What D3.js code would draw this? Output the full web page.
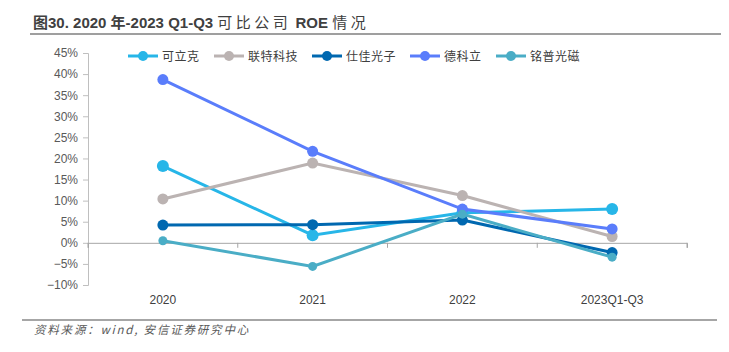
<!DOCTYPE html>
<html>
<head>
<meta charset="utf-8">
<script src="https://cdn.jsdelivr.net/npm/d3@7"></script>
<style>
  body { margin: 0; background: #fff; }
  svg { display: block; }
</style>
</head>
<body>
<div id="wrapper"></div>
<script>
// data (ROE, %)
const categories = ["2020", "2021", "2022", "2023Q1-Q3"]
const seriesNames = ["可立克", "联特科技", "仕佳光子", "德科立", "铭普光磁"]
const keLiKe = [18.2, 1.8, 7.1, 8.0]
const lianTe = [10.4, 18.9, 11.2, 1.5]
const shiJia = [4.2, 4.3, 5.4, -2.3]
const deKeLi = [38.7, 21.7, 8.0, 3.3]
const mingPu = [0.5, -5.6, 6.8, -3.4]
const yTicks = [45, 40, 35, 30, 25, 20, 15, 10, 5, 0, -5, -10]

const colors = ["#27b6e8", "#bbb3b2", "#0068b0", "#5a7dfb", "#4aadc6"]
const radii = [6, 5.5, 5.5, 5.5, 4.5]
const allSeries = [keLiKe, lianTe, shiJia, deKeLi, mingPu]

const dimensions = {
  width: 729,
  height: 352,
  margin: { top: 53, right: 42, bottom: 67, left: 88 },
}
dimensions.boundedWidth = dimensions.width - dimensions.margin.left - dimensions.margin.right
dimensions.boundedHeight = dimensions.height - dimensions.margin.top - dimensions.margin.bottom

const wrapper = d3.select("#wrapper")
  .append("svg")
  .attr("width", dimensions.width)
  .attr("height", dimensions.height)
  .style("font-family", "'Liberation Sans', Arial, sans-serif")

// title + rules (CJK parts are spaced out a little, like the original)
const title = wrapper.append("text")
  .attr("x", 33).attr("y", 28)
  .attr("font-size", 15).attr("font-weight", "bold").attr("fill", "#404040")
  .attr("font-family", "'Liberation Sans', 'Noto Sans CJK SC', sans-serif")
const titleParts = [
  ["图", 0], ["30. 2020 ", 0], ["年", 0], ["-2023 Q1-Q3 ", 0],
  ["可比公司", 3.5], [" ROE ", 0], ["情况", 3.5],
]
titleParts.forEach(function(p) {
  title.append("tspan").attr("letter-spacing", p[1])
    .attr("font-weight", p[1] > 0 ? "normal" : "bold")
    .text(p[0])
})
wrapper.append("line")
  .attr("x1", 30).attr("x2", 721).attr("y1", 34).attr("y2", 34)
  .attr("stroke", "#7f7f7f").attr("stroke-width", 1.5)
wrapper.append("line")
  .attr("x1", 22).attr("x2", 717).attr("y1", 320).attr("y2", 320)
  .attr("stroke", "#a6a6a6").attr("stroke-width", 2)
wrapper.append("text")
  .attr("x", 34).attr("y", 334)
  .attr("font-size", 11.5).attr("font-style", "italic").attr("fill", "#595959")
  .attr("letter-spacing", 1.8)
  .attr("font-family", "'Noto Sans CJK SC', sans-serif")
  .text("资料来源：wind, 安信证券研究中心")

const bounds = wrapper.append("g")
  .attr("transform", `translate(${dimensions.margin.left},${dimensions.margin.top})`)

const xScale = d3.scaleBand()
  .domain(categories)
  .range([0, dimensions.boundedWidth])

const yScale = d3.scaleLinear()
  .domain([-10, 45])
  .range([dimensions.boundedHeight, 0])

// y axis
const yAxis = d3.axisLeft(yScale)
  .tickValues(yTicks)
  .tickSize(5)
  .tickFormat(d => (d < 0 ? "−" + Math.abs(d) : d) + "%")
const yAxisG = bounds.append("g").call(yAxis)
yAxisG.select(".domain").attr("stroke", "#bfbfbf")
yAxisG.selectAll(".tick line").attr("stroke", "#bfbfbf")
yAxisG.selectAll(".tick text")
  .attr("x", -10)
  .attr("fill", "#595959").attr("font-size", 12)

// x axis at zero
const xAxis = d3.axisBottom(xScale).tickSize(5).tickFormat("")
const xAxisG = bounds.append("g")
  .attr("transform", `translate(0,${yScale(0)})`)
  .call(xAxis)
xAxisG.select(".domain").attr("stroke", "#a6a6a6")
xAxisG.selectAll(".tick").remove()
// boundary ticks between categories
const edges = d3.range(categories.length + 1).map(i => i * xScale.step())
xAxisG.selectAll(".edge")
  .data(edges)
  .join("line")
  .attr("x1", d => d).attr("x2", d => d)
  .attr("y1", 0).attr("y2", 5)
  .attr("stroke", "#a6a6a6")

// category labels at bottom
bounds.append("g").selectAll("text")
  .data(categories)
  .join("text")
  .attr("x", d => xScale(d) + xScale.bandwidth() / 2)
  .attr("y", dimensions.boundedHeight + 19)
  .attr("text-anchor", "middle")
  .attr("font-size", 12).attr("fill", "#404040")
  .attr("font-family", "'Liberation Sans Narrow', 'Liberation Sans', sans-serif")
  .text(d => d)

const xPos = i => xScale(categories[i]) + xScale.bandwidth() / 2
const lineGenerator = d3.line()
  .x((d, i) => xPos(i))
  .y(d => yScale(d))

allSeries.forEach(function(values, s) {
  const g = bounds.append("g")
  g.append("path")
    .datum(values)
    .attr("d", lineGenerator)
    .attr("fill", "none")
    .attr("stroke", colors[s])
    .attr("stroke-width", 3)
  g.selectAll("circle")
    .data(values)
    .join("circle")
    .attr("cx", (d, i) => xPos(i))
    .attr("cy", d => yScale(d))
    .attr("r", radii[s])
    .attr("fill", colors[s])
})

// legend
const legendX = [128, 214, 312, 410, 496]
const legend = wrapper.append("g")
seriesNames.forEach(function(name, s) {
  const g = legend.append("g").attr("transform", `translate(${legendX[s]},56)`)
  g.append("line").attr("x1", 0).attr("x2", 30)
    .attr("stroke", colors[s]).attr("stroke-width", 3)
  g.append("circle").attr("cx", 15).attr("r", 5).attr("fill", colors[s])
  g.append("text").attr("x", 34).attr("y", 4.5)
    .attr("font-size", 12).attr("fill", "#404040")
    .attr("letter-spacing", 0.5)
    .attr("font-family", "'Noto Sans CJK SC', sans-serif")
    .text(name)
})
</script>
</body>
</html>
